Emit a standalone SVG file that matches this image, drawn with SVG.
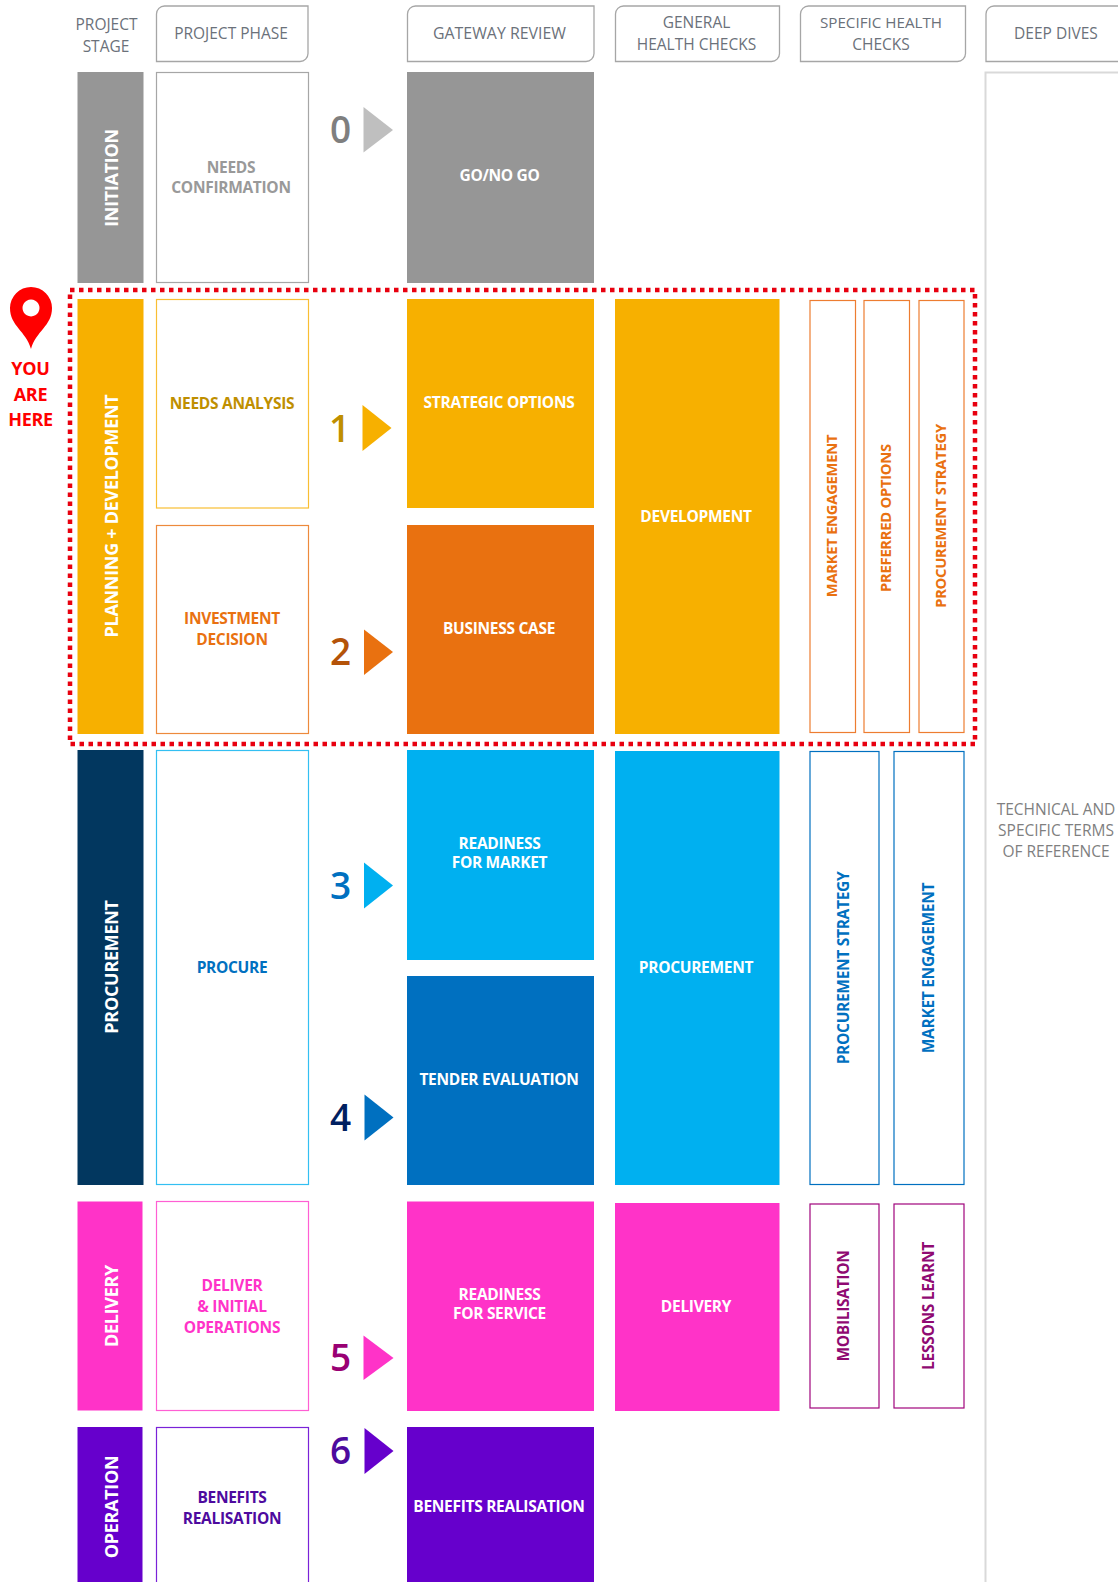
<svg xmlns="http://www.w3.org/2000/svg" width="1118" height="1582" viewBox="0 0 1118 1582">
<style>
text{font-family:"Open Sans","Noto Sans","Liberation Sans",sans-serif;text-anchor:middle;font-size:15.5px}
.h{fill:#6b717a}
.hb{fill:#fff;stroke:#a6a6a6;stroke-width:1.3}
.b{font-weight:700;font-size:15.500px;letter-spacing:-.3px}
.w{fill:#fff;font-weight:700;font-size:15.500px;letter-spacing:-.3px}
.o{fill:#fff;stroke-width:1.2}
.n{font-size:37px;font-weight:600}
.s{font-size:18px}
.t{font-size:14.800px}
.y{font-size:18px}
</style>
<rect width="1118" height="1582" fill="#fff"/>
<g id="headers">
<text class="h" x="106.500" y="29.500">PROJECT</text><text class="h" x="106" y="51.500">STAGE</text>
<path class="hb" d="M156.500 61.500V14a8 8 0 0 1 8-8H308V53.500a8 8 0 0 1-8 8Z"/><text class="h" x="231" y="39">PROJECT PHASE</text>
<path class="hb" d="M407.500 61.500V14a8 8 0 0 1 8-8H594V53.500a8 8 0 0 1-8 8Z"/><text class="h" style="font-size:15.900px" x="499.500" y="39">GATEWAY REVIEW</text>
<path class="hb" d="M615.500 61.500V14a8 8 0 0 1 8-8H779.500V53.500a8 8 0 0 1-8 8Z"/><text class="h" x="696.500" y="28">GENERAL</text><text class="h" x="696.500" y="49.500">HEALTH CHECKS</text>
<path class="hb" d="M800.500 61.500V14a8 8 0 0 1 8-8H965.500V53.500a8 8 0 0 1-8 8Z"/><text class="h" style="font-size:15.200px" x="881" y="28">SPECIFIC HEALTH</text><text class="h" x="881" y="49.500">CHECKS</text>
<path class="hb" d="M986 61.500V14a8 8 0 0 1 8-8H1120V61.500Z"/><text class="h" x="1056" y="39">DEEP DIVES</text>
</g>
<g id="deep-dives">
<path d="M1120 72.500H985.500V1590" fill="none" stroke="#d9d9d9" stroke-width="2"/>
<text fill="#7f7f7f" x="1056" y="815">TECHNICAL AND</text><text fill="#7f7f7f" x="1056" y="836">SPECIFIC TERMS</text><text fill="#7f7f7f" x="1056" y="857">OF REFERENCE</text>
</g>
<g id="stage-initiation"><rect x="77.500" y="72" width="66" height="211" fill="#969696"/><text class="w s" transform="translate(118 178) rotate(-90)">INITIATION</text></g>
<g id="stage-planning"><rect x="77.500" y="299" width="66" height="435" fill="#f7b000"/><text class="w s" transform="translate(118 516) rotate(-90)">PLANNING + DEVELOPMENT</text></g>
<g id="stage-procurement"><rect x="77.500" y="750" width="66" height="435" fill="#02375f"/><text class="w s" transform="translate(118 967) rotate(-90)">PROCUREMENT</text></g>
<g id="stage-delivery"><rect x="77.500" y="1201.500" width="65" height="209" fill="#ff33c8"/><text class="w s" transform="translate(118 1306) rotate(-90)">DELIVERY</text></g>
<g id="stage-operation"><rect x="77.500" y="1427" width="65" height="158" fill="#6600cc"/><text class="w s" transform="translate(118 1507) rotate(-90)">OPERATION</text></g>
<g id="phase-needs-confirmation"><rect class="o" x="156.500" y="72.500" width="152" height="210" stroke="#a6a6a6"/><text class="b" fill="#999" x="231" y="172.500">NEEDS</text><text class="b" fill="#999" x="231" y="193">CONFIRMATION</text></g>
<g id="phase-needs-analysis"><rect class="o" x="156.500" y="299.500" width="152" height="208.500" stroke="#f9be33"/><text class="b" fill="#bf8f00" x="232" y="409">NEEDS ANALYSIS</text></g>
<g id="phase-investment"><rect class="o" x="156.500" y="525.500" width="152" height="208" stroke="#ed8a3c"/><text class="b" fill="#e97110" x="232" y="624">INVESTMENT</text><text class="b" fill="#e97110" x="232" y="645">DECISION</text></g>
<g id="phase-procure"><rect class="o" x="156.500" y="750.500" width="152" height="434" stroke="#33bff2"/><text class="b" fill="#0070c0" x="232" y="973">PROCURE</text></g>
<g id="phase-deliver"><rect class="o" x="156.500" y="1201.500" width="152" height="209" stroke="#ff5fd3"/><text class="b" fill="#ff33c8" x="232" y="1291">DELIVER</text><text class="b" fill="#ff33c8" x="232" y="1311.500">&amp; INITIAL</text><text class="b" fill="#ff33c8" x="232" y="1333">OPERATIONS</text></g>
<g id="phase-benefits"><rect class="o" x="156.500" y="1427.500" width="152" height="158" stroke="#7a22d8"/><text class="b" fill="#4d0a9e" x="232" y="1503">BENEFITS</text><text class="b" fill="#4d0a9e" x="232" y="1524">REALISATION</text></g>
<g id="markers">
<text class="n" fill="#7f7f7f" x="340.500" y="143">0</text><path d="M363.500 107L393 130L363.500 152.500Z" fill="#bfbfbf"/>
<text class="n" fill="#bf8f00" x="339.500" y="442">1</text><path d="M362.500 405L391.500 428L362.500 451Z" fill="#f7b000"/>
<text class="n" fill="#b45309" x="340.500" y="665">2</text><path d="M364 629.500L393 652L364 675Z" fill="#e97110"/>
<text class="n" fill="#0070c0" x="340.500" y="899">3</text><path d="M364 862.500L393 885.500L364 908.500Z" fill="#00b0f0"/>
<text class="n" fill="#002060" x="340.500" y="1131">4</text><path d="M364.500 1094.500L393.500 1117.500L364.500 1140.500Z" fill="#0070c0"/>
<text class="n" fill="#990073" x="340.500" y="1371">5</text><path d="M363.500 1335.500L393.500 1358L363.500 1380Z" fill="#ff33c8"/>
<text class="n" fill="#4d0a9e" x="340.500" y="1464">6</text><path d="M364.500 1428L393.500 1451L364.500 1474Z" fill="#6600cc"/>
</g>
<g id="gw-go"><rect x="407" y="72" width="187" height="211" fill="#969696"/><text class="w" x="499.500" y="181">GO/NO GO</text></g>
<g id="gw-strategic"><rect x="407" y="299" width="187" height="209" fill="#f7b000"/><text class="w" x="499" y="408">STRATEGIC OPTIONS</text></g>
<g id="gw-business"><rect x="407" y="525" width="187" height="209" fill="#e97110"/><text class="w" x="499" y="634">BUSINESS CASE</text></g>
<g id="gw-market"><rect x="407" y="750" width="187" height="210" fill="#00b0f0"/><text class="w" x="499.500" y="849">READINESS</text><text class="w" x="499.500" y="868">FOR MARKET</text></g>
<g id="gw-tender"><rect x="407" y="976" width="187" height="209" fill="#0070c0"/><text class="w" x="499" y="1085">TENDER EVALUATION</text></g>
<g id="gw-service"><rect x="407" y="1201.500" width="187" height="209.500" fill="#ff33c8"/><text class="w" x="499.500" y="1300">READINESS</text><text class="w" x="499.500" y="1319">FOR SERVICE</text></g>
<g id="gw-benefits"><rect x="407" y="1427" width="187" height="158" fill="#6600cc"/><text class="w" x="499" y="1512">BENEFITS REALISATION</text></g>
<g id="ghc-development"><rect x="615" y="299" width="164.500" height="435" fill="#f7b000"/><text class="w" x="696" y="522">DEVELOPMENT</text></g>
<g id="ghc-procurement"><rect x="615" y="751" width="164.500" height="434" fill="#00b0f0"/><text class="w" x="696" y="973">PROCUREMENT</text></g>
<g id="ghc-delivery"><rect x="615" y="1203" width="164.500" height="208" fill="#ff33c8"/><text class="w" x="696" y="1312">DELIVERY</text></g>
<g id="shc-market-1"><rect class="o" x="810" y="300.500" width="45.500" height="432" stroke="#ed7d31"/><text class="b t" fill="#e97110" transform="translate(836.500 516) rotate(-90)">MARKET ENGAGEMENT</text></g>
<g id="shc-preferred"><rect class="o" x="864" y="300.500" width="45.500" height="432" stroke="#ed7d31"/><text class="b t" fill="#e97110" transform="translate(891 518) rotate(-90)">PREFERRED OPTIONS</text></g>
<g id="shc-procurement-1"><rect class="o" x="919" y="300.500" width="45" height="432" stroke="#ed7d31"/><text class="b t" fill="#e97110" transform="translate(945.500 516) rotate(-90)">PROCUREMENT STRATEGY</text></g>
<g id="shc-procurement-2"><rect class="o" x="810" y="751.500" width="69" height="433" stroke="#0070c0"/><text class="b" fill="#0070c0" transform="translate(849 968) rotate(-90)">PROCUREMENT STRATEGY</text></g>
<g id="shc-market-2"><rect class="o" x="894" y="751.500" width="70" height="433" stroke="#0070c0"/><text class="b" fill="#0070c0" transform="translate(933.500 968) rotate(-90)">MARKET ENGAGEMENT</text></g>
<g id="shc-mobilisation"><rect class="o" x="810" y="1204" width="69" height="204" stroke="#a0047c"/><text class="b" fill="#8f0a72" transform="translate(849 1306) rotate(-90)">MOBILISATION</text></g>
<g id="shc-lessons"><rect class="o" x="894" y="1204" width="70" height="204" stroke="#a0047c"/><text class="b" fill="#8f0a72" transform="translate(933.500 1306) rotate(-90)">LESSONS LEARNT</text></g>
<g id="connectors"></g>
<g id="you-are-here">
<rect x="70" y="290" width="905" height="454" fill="none" stroke="#e8000f" stroke-width="4.500" stroke-dasharray="4.500 4.500"/>
<path d="M31 349C26 331 10 326 10 308A21 21 0 0 1 52 308C52 326 36 331 31 349ZM31 299.500a8.500 8.500 0 1 0 .01 0Z" fill="#ff0000" fill-rule="evenodd"/>
<text fill="#ff0000" class="b y" x="30.500" y="375">YOU</text><text fill="#ff0000" class="b y" x="30.500" y="401">ARE</text><text fill="#ff0000" class="b y" x="30.500" y="426">HERE</text>
</g>
</svg>
